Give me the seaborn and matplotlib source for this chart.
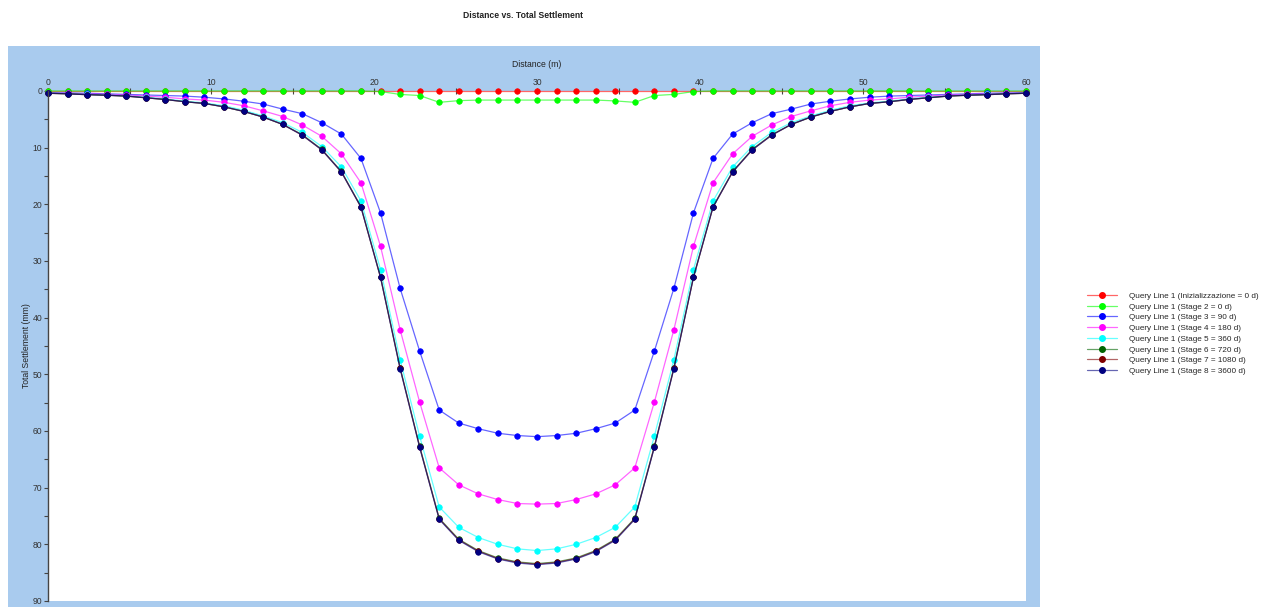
import numpy as np
import pandas as pd
import matplotlib
matplotlib.use("Agg")
import matplotlib.pyplot as plt
from matplotlib.lines import Line2D
from matplotlib.colors import to_rgba
from matplotlib.ticker import MultipleLocator
import seaborn as sns

# Query line stations (m)
distance = [round(1.2 * k, 1) for k in range(51)]

# Total settlement (mm) along the query line for each stage
init_0d = [0.0] * 51

stage2_0d = [0.0, 0.0, 0.0, 0.0, 0.0, 0.0, 0.0, 0.0, 0.0, 0.0,
             0.0, 0.0, 0.0, 0.0, 0.0, 0.0, 0.0, 0.1, 0.6, 0.8,
             2.0, 1.7, 1.6, 1.6, 1.6, 1.6, 1.6, 1.6, 1.6, 1.75,
             2.0, 0.8, 0.6, 0.1, 0.0, 0.0, 0.0, 0.0, 0.0, 0.0,
             0.0, 0.0, 0.0, 0.0, 0.0, 0.0, 0.0, 0.0, 0.0, 0.0,
             0.0]

stage3_90d = [0.3, 0.35, 0.4, 0.5, 0.6, 0.7, 0.8, 0.9, 1.1, 1.4,
              1.8, 2.3, 3.2, 4.0, 5.6, 7.6, 11.9, 21.5, 34.8, 45.9,
              56.3, 58.6, 59.6, 60.4, 60.8, 61.0, 60.8, 60.4, 59.6, 58.6,
              56.3, 45.9, 34.8, 21.5, 11.9, 7.6, 5.6, 4.0, 3.2, 2.3,
              1.8, 1.4, 1.1, 0.9, 0.8, 0.7, 0.6, 0.5, 0.4, 0.35,
              0.3]

stage4_180d = [0.3, 0.4, 0.5, 0.6, 0.7, 0.9, 1.1, 1.4, 1.6, 2.0,
               2.6, 3.5, 4.5, 6.0, 8.0, 11.1, 16.2, 27.4, 42.1, 54.9,
               66.5, 69.5, 71.1, 72.1, 72.8, 72.9, 72.8, 72.1, 71.1, 69.5,
               66.5, 54.9, 42.1, 27.4, 16.2, 11.1, 8.0, 6.0, 4.5, 3.5,
               2.6, 2.0, 1.6, 1.4, 1.1, 0.9, 0.7, 0.6, 0.5, 0.4,
               0.3]

stage5_360d = [0.35, 0.45, 0.6, 0.7, 0.85, 1.1, 1.4, 1.8, 2.1, 2.6,
               3.4, 4.4, 5.6, 7.3, 9.8, 13.4, 19.4, 31.5, 47.4, 60.9,
               73.4, 77.0, 78.8, 80.0, 80.8, 81.1, 80.8, 80.0, 78.8, 77.0,
               73.4, 60.9, 47.4, 31.5, 19.4, 13.4, 9.8, 7.3, 5.6, 4.4,
               3.4, 2.6, 2.1, 1.8, 1.4, 1.1, 0.85, 0.7, 0.6, 0.45,
               0.35]

stage6_720d = [0.4, 0.5, 0.65, 0.75, 0.9, 1.2, 1.5, 1.9, 2.2, 2.8,
               3.6, 4.6, 5.9, 7.7, 10.3, 14.2, 20.4, 32.8, 48.8, 62.7,
               75.4, 79.1, 81.1, 82.4, 83.1, 83.4, 83.1, 82.4, 81.1, 79.1,
               75.4, 62.7, 48.8, 32.8, 20.4, 14.2, 10.3, 7.7, 5.9, 4.6,
               3.6, 2.8, 2.2, 1.9, 1.5, 1.2, 0.9, 0.75, 0.65, 0.5,
               0.4]

stage7_1080d = [0.4, 0.5, 0.65, 0.75, 0.9, 1.2, 1.5, 1.9, 2.2, 2.8,
                3.6, 4.6, 5.9, 7.8, 10.4, 14.3, 20.5, 32.9, 48.9, 62.8,
                75.5, 79.2, 81.2, 82.5, 83.2, 83.5, 83.2, 82.5, 81.2, 79.2,
                75.5, 62.8, 48.9, 32.9, 20.5, 14.3, 10.4, 7.8, 5.9, 4.6,
                3.6, 2.8, 2.2, 1.9, 1.5, 1.2, 0.9, 0.75, 0.65, 0.5,
                0.4]

stage8_3600d = [0.4, 0.5, 0.65, 0.75, 0.9, 1.2, 1.5, 1.9, 2.2, 2.8,
                3.6, 4.6, 5.9, 7.8, 10.4, 14.3, 20.5, 32.9, 49.0, 62.9,
                75.6, 79.3, 81.3, 82.6, 83.3, 83.6, 83.3, 82.6, 81.3, 79.3,
                75.6, 62.9, 49.0, 32.9, 20.5, 14.3, 10.4, 7.8, 5.9, 4.6,
                3.6, 2.8, 2.2, 1.9, 1.5, 1.2, 0.9, 0.75, 0.65, 0.5,
                0.4]

series_names = [
    "Query Line 1 (Inizializzazione = 0 d)",
    "Query Line 1 (Stage 2 = 0 d)",
    "Query Line 1 (Stage 3 = 90 d)",
    "Query Line 1 (Stage 4 = 180 d)",
    "Query Line 1 (Stage 5 = 360 d)",
    "Query Line 1 (Stage 6 = 720 d)",
    "Query Line 1 (Stage 7 = 1080 d)",
    "Query Line 1 (Stage 8 = 3600 d)",
]
series_values = [init_0d, stage2_0d, stage3_90d, stage4_180d,
                 stage5_360d, stage6_720d, stage7_1080d, stage8_3600d]
series_colors = ["#ff0000", "#00ff00", "#0000ff", "#ff00ff",
                 "#00ffff", "#006400", "#800000", "#000080"]

x_ticks = [0, 10, 20, 30, 40, 50, 60]
y_ticks = [0, 10, 20, 30, 40, 50, 60, 70, 80, 90]

frames = []
for name, vals in zip(series_names, series_values):
    frames.append(pd.DataFrame({"Distance": distance, "Settlement": vals, "Series": name}))
df = pd.concat(frames, ignore_index=True)

sns.set_style("white")
plt.rcParams["font.family"] = ["Liberation Sans", "DejaVu Sans"]
FS = 6.2
W, H = 1267, 607
MS = 4.0

fig = plt.figure(figsize=(W / 100, H / 100), dpi=100)

# light-blue chart panel behind the plot area
panel = fig.add_axes([8 / W, 0, (1040 - 8) / W, (H - 46) / H])
panel.set_facecolor("#a9cbee")
panel.set_xticks([])
panel.set_yticks([])
for s in panel.spines.values():
    s.set_visible(False)

ax = fig.add_axes([48 / W, (H - 601) / H, (1026 - 48) / W, (601 - 91) / H])
ax.set_facecolor("white")

palette = dict(zip(series_names, series_colors))
sns.lineplot(data=df, x="Distance", y="Settlement", hue="Series",
             hue_order=series_names, palette=palette, sort=False,
             marker="o", markersize=MS, markeredgewidth=0.5,
             linewidth=0.9, ax=ax, legend=False)

# lines a touch lighter than their markers
for line in ax.lines:
    c = line.get_color()
    line.set_markerfacecolor(c)
    line.set_markeredgecolor(c)
    line.set_color(to_rgba(c, 0.6))
    line.set_clip_on(False)

ax.set_xlim(0, 60)
ax.set_ylim(90, 0)
ax.xaxis.tick_top()
ax.xaxis.set_label_position("top")
ax.set_xticks(x_ticks)
ax.set_yticks(y_ticks)
ax.xaxis.set_minor_locator(MultipleLocator(5))
ax.yaxis.set_minor_locator(MultipleLocator(5))
ax.tick_params(axis="x", which="both", direction="inout", length=4, width=0.8,
               colors="#444444", labelsize=FS, labelcolor="#333333", pad=1)
ax.tick_params(axis="y", which="both", direction="out", length=3, width=0.8,
               colors="#444444", labelsize=FS, labelcolor="#333333", pad=1)
ax.tick_params(axis="both", which="both", bottom=False, right=False, left=True, top=True)
for side in ["top", "right", "bottom"]:
    ax.spines[side].set_visible(False)
ax.spines["left"].set_color("#444444")
ax.spines["left"].set_linewidth(1.0)

ax.set_xlabel("Distance (m)", fontsize=FS, color="#222222", labelpad=8)
ax.set_ylabel("Total Settlement (mm)", fontsize=FS, color="#222222", labelpad=1.5)

fig.text(523 / W, 1 - 16 / H, "Distance vs. Total Settlement",
         ha="center", va="center", fontsize=FS, fontweight="bold", color="#222222")

handles = [Line2D([], [], color=to_rgba(c, 0.6), linewidth=0.9, marker="o",
                  markersize=MS, markerfacecolor=c, markeredgecolor=c)
           for c in series_colors]
fig.legend(handles, series_names, loc="upper left",
           bbox_to_anchor=(1087 / W, 1 - 292 / H), frameon=False,
           fontsize=5.9, handlelength=3.7, handletextpad=1.4,
           labelspacing=0.37, borderaxespad=0, borderpad=0)

fig.savefig("out.png", dpi=100)
